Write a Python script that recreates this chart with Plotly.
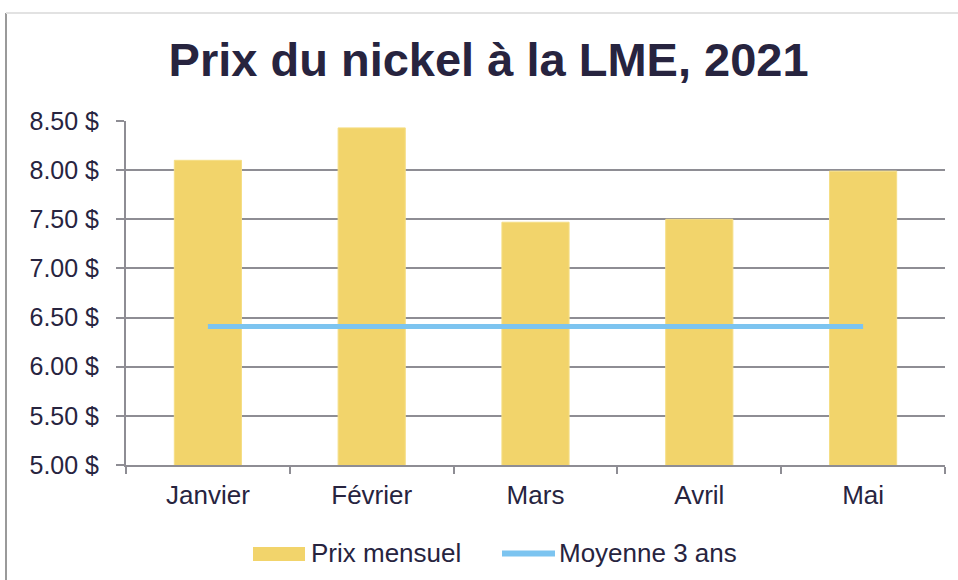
import plotly.graph_objects as go

months = ["Janvier", "Février", "Mars", "Avril", "Mai"]
prix_mensuel = [8.10, 8.43, 7.47, 7.50, 7.99]
moyenne_3_ans = [6.41, 6.41, 6.41, 6.41, 6.41]
tick_vals = [5.0, 5.5, 6.0, 6.5, 7.0, 7.5, 8.0, 8.5]
tick_text = ["5.00 $", "5.50 $", "6.00 $", "6.50 $", "7.00 $", "7.50 $", "8.00 $", "8.50 $"]

navy = "#27243F"
grid = "#8E8D94"
bar_col = "#F2D46B"
line_col = "#7CC4F0"
font_fam = "Liberation Sans, Arial, sans-serif"

L, R, T, B = 126, 13, 121, 115
W, H = 958, 580
PW, PH = W - L - R, H - T - B


def px(x):
    return (x - L) / PW


def py(y):
    return (H - B - y) / PH


fig = go.Figure()
fig.add_trace(go.Bar(x=months, y=prix_mensuel, name="Prix mensuel",
                     marker=dict(color=bar_col, line=dict(color="#F5DE85", width=1)),
                     width=0.41, showlegend=False))
fig.add_trace(go.Scatter(x=months, y=moyenne_3_ans, name="Moyenne 3 ans", mode="lines",
                         line=dict(color=line_col, width=5), showlegend=False))

fig.update_layout(
    width=W, height=H,
    paper_bgcolor="white", plot_bgcolor="white",
    margin=dict(l=L, r=R, t=T, b=B),
    title=dict(text="<b>Prix du nickel à la LME, 2021</b>", x=0.51, xanchor="center",
               y=0.897, yanchor="middle",
               font=dict(family=font_fam, size=47, color=navy)),
    font=dict(family=font_fam, size=25, color=navy),
    showlegend=False,
    bargap=0.59,
)
fig.update_yaxes(range=[5, 8.5], tickvals=tick_vals, ticktext=tick_text,
                 showgrid=True, gridcolor=grid, gridwidth=2,
                 showline=True, linecolor=grid, linewidth=2,
                 ticks="outside", ticklen=8, tickcolor=grid, tickwidth=2,
                 ticklabelstandoff=12,
                 zeroline=False, tickfont=dict(size=25, color=navy))
fig.update_xaxes(showline=True, linecolor=grid, linewidth=2,
                 ticks="outside", tickson="boundaries", ticklen=7, tickcolor=grid, tickwidth=2,
                 ticklabelstandoff=6,
                 tickfont=dict(size=26, color=navy), showgrid=False)

# outer frame lines
fig.add_shape(type="line", xref="paper", yref="paper", x0=px(6), x1=px(6),
              y0=py(580), y1=py(13), line=dict(color="#9A9A9A", width=2))
fig.add_shape(type="line", xref="paper", yref="paper", x0=px(6), x1=px(958),
              y0=py(13), y1=py(13), line=dict(color="#E2E2E2", width=2))

# legend (manual, to match wide swatches)
fig.add_shape(type="rect", xref="paper", yref="paper", x0=px(253), x1=px(305),
              y0=py(561), y1=py(547), fillcolor=bar_col, line=dict(width=0))
fig.add_shape(type="line", xref="paper", yref="paper", x0=px(502), x1=px(555),
              y0=py(553.5), y1=py(553.5), line=dict(color=line_col, width=6))
fig.add_annotation(text="Prix mensuel", xref="paper", yref="paper", x=px(309), y=py(553),
                   xanchor="left", yanchor="middle", showarrow=False,
                   font=dict(family=font_fam, size=26, color=navy))
fig.add_annotation(text="Moyenne 3 ans", xref="paper", yref="paper", x=px(557), y=py(553),
                   xanchor="left", yanchor="middle", showarrow=False,
                   font=dict(family=font_fam, size=26, color=navy))

fig.write_html("out.html")
